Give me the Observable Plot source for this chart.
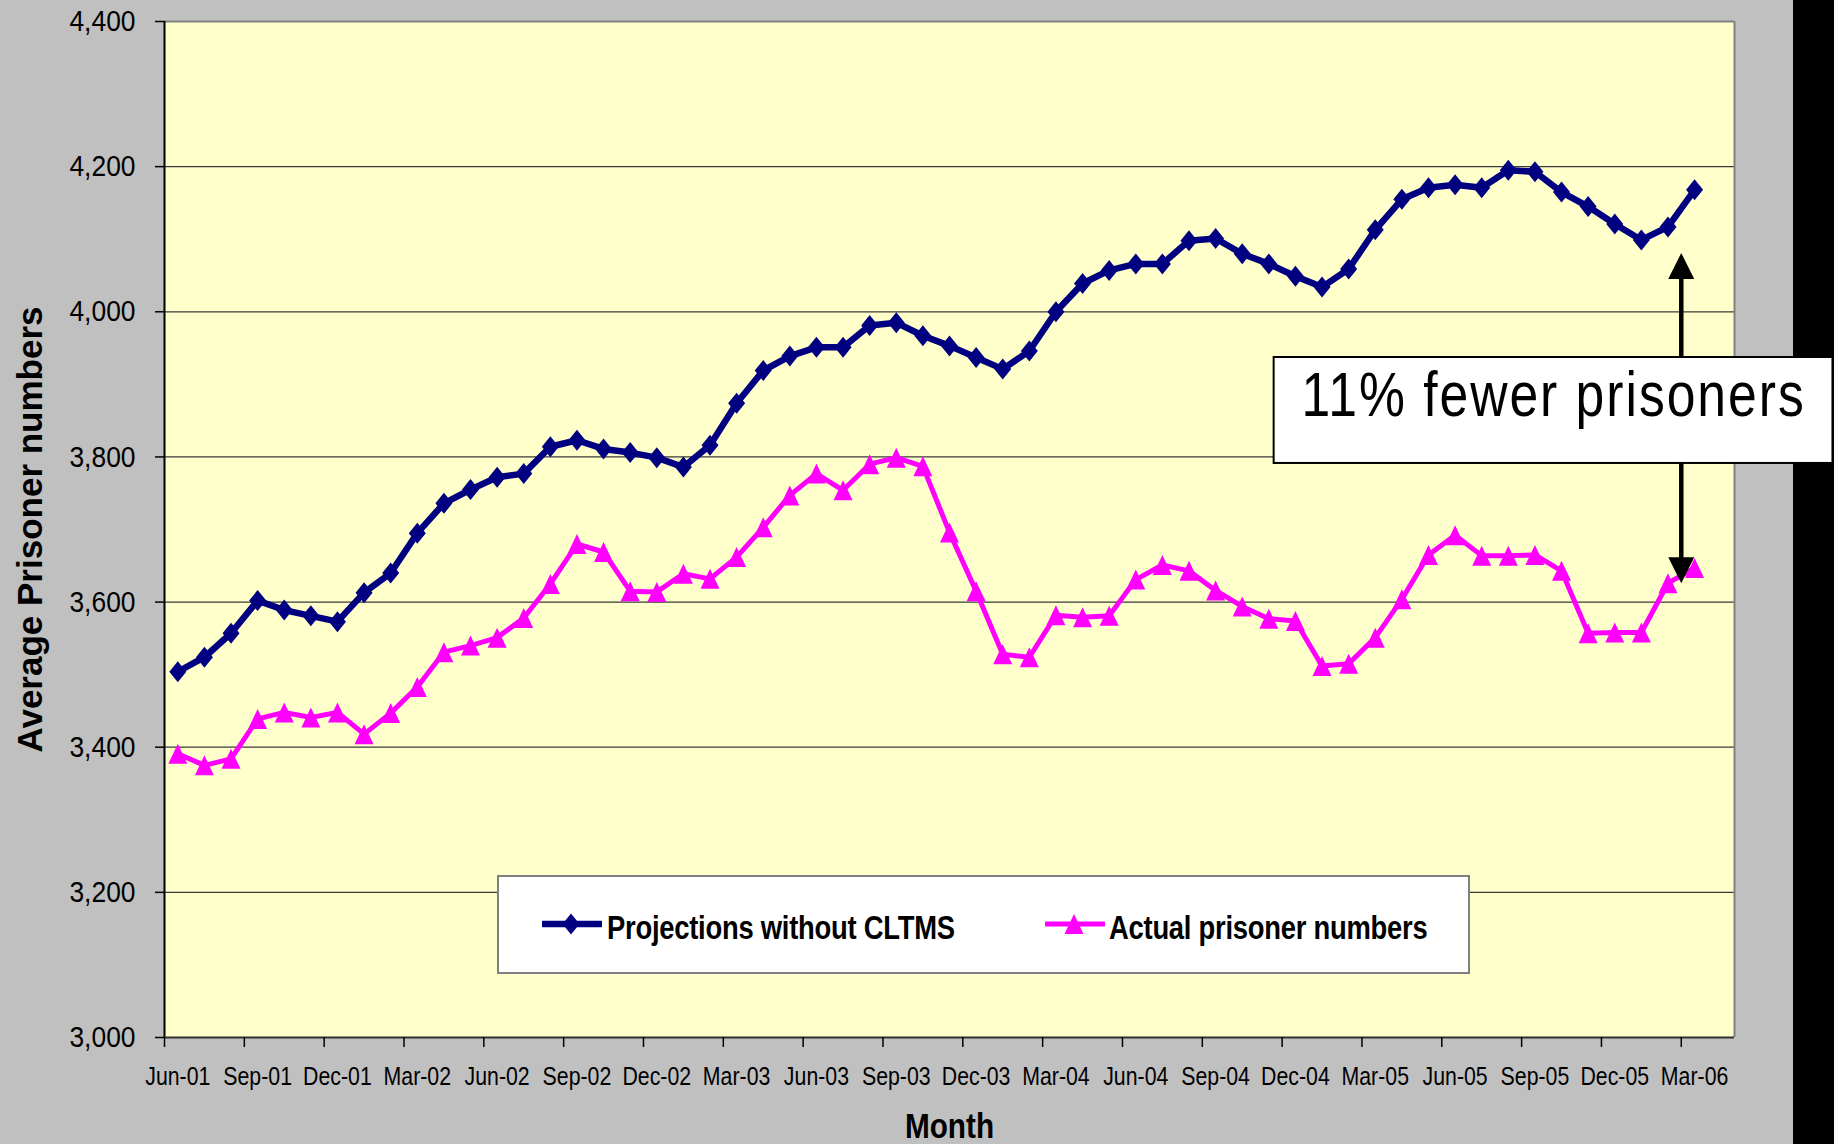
<!DOCTYPE html>
<html><head><meta charset="utf-8">
<script src="https://cdn.jsdelivr.net/npm/d3@7"></script>
<script src="https://cdn.jsdelivr.net/npm/@observablehq/plot@0.6"></script>
<style>
html,body{margin:0;padding:0;background:#C0C0C0;}
#wrap{position:relative;width:1834px;height:1144px;overflow:hidden;background:#C0C0C0;}
#strip{position:absolute;left:1793px;top:0;width:41px;height:1144px;background:#000;}
#chart{position:absolute;left:0;top:0;}
#legend{position:absolute;left:497px;top:875px;width:969px;height:95px;background:#fff;border:2px solid #808080;
  font-family:"Liberation Sans",Arial,sans-serif;font-weight:bold;font-size:33px;color:#000;}
#legend .item{position:absolute;top:0;left:0;height:95px;}
#legend svg{position:absolute;top:0;}
#legend span{position:absolute;top:34px;line-height:33px;white-space:nowrap;letter-spacing:-0.3px;
  transform:scaleX(0.83);transform-origin:left center;}
</style>
</head><body>
<div id="wrap"><div id="strip"></div><div id="chart"></div><div id="legend"></div></div>
<script>
// ---- data ----
const months = ["Jun-01","Jul-01","Aug-01","Sep-01","Oct-01","Nov-01","Dec-01","Jan-02","Feb-02","Mar-02","Apr-02","May-02",
  "Jun-02","Jul-02","Aug-02","Sep-02","Oct-02","Nov-02","Dec-02","Jan-03","Feb-03","Mar-03","Apr-03","May-03",
  "Jun-03","Jul-03","Aug-03","Sep-03","Oct-03","Nov-03","Dec-03","Jan-04","Feb-04","Mar-04","Apr-04","May-04",
  "Jun-04","Jul-04","Aug-04","Sep-04","Oct-04","Nov-04","Dec-04","Jan-05","Feb-05","Mar-05","Apr-05","May-05",
  "Jun-05","Jul-05","Aug-05","Sep-05","Oct-05","Nov-05","Dec-05","Jan-06","Feb-06","Mar-06","Apr-06"];
const projections = [3504,3524,3557,3602,3589,3581,3573,3613,3640,3695,3736,3755,
  3772,3777,3814,3823,3811,3806,3799,3786,3816,3874,3919,3939,
  3951,3951,3981,3985,3967,3953,3937,3921,3946,4000,4039,4057,
  4066,4066,4098,4101,4080,4066,4049,4034,4059,4113,4155,4171,
  4175,4171,4195,4193,4165,4145,4121,4099,4117,4168];
const actual = [3391,3375,3384,3439,3448,3441,3448,3418,3447,3483,3531,3540,
  3551,3578,3625,3680,3669,3615,3614,3639,3632,3662,3703,3747,
  3777,3754,3790,3799,3787,3696,3615,3528,3524,3582,3579,3581,
  3631,3651,3643,3616,3594,3577,3574,3512,3515,3551,3604,3665,
  3692,3664,3664,3665,3643,3557,3558,3558,3626,3647];
const seriesNames = ["Projections without CLTMS","Actual prisoner numbers"];
const seriesColors = ["#000080","#FF00FF"];
const tickLabels = ["Jun-01","Sep-01","Dec-01","Mar-02","Jun-02","Sep-02","Dec-02","Mar-03","Jun-03","Sep-03",
  "Dec-03","Mar-04","Jun-04","Sep-04","Dec-04","Mar-05","Jun-05","Sep-05","Dec-05","Mar-06"];
const yTicks = [3000,3200,3400,3600,3800,4000,4200,4400];
const yTitle = "Average Prisoner numbers";
const xTitle = "Month";
// annotation: arrow between the series (x in category units, y in prisoner numbers)
const arrow = [{x: 56.5, yTop: 4081, yBottom: 3626}];
const note = [{text: "11% fewer prisoners", x1: 41.2, x2: 62.2, y1: 3791, y2: 3937, yText: 3857}];

// ---- build table ----
const rows = projections.map((p, i) => ({i, month: months[i], projection: p, actual: actual[i]}));
const labelIdx = tickLabels.map(l => months.indexOf(l));
const boundIdx = d3.range(-0.5, months.length, 3);
const fmt = d3.format(",");

// ---- symbols ----
const sc = s => Math.sqrt(s / Math.PI) / 10;
const diamondSym = {draw(c, s){const k=sc(s); c.moveTo(0,-10.5*k); c.lineTo(8.5*k,0); c.lineTo(0,10.5*k); c.lineTo(-8.5*k,0); c.closePath();}};
const triSym = {draw(c, s){const k=sc(s); c.moveTo(0,-10*k); c.lineTo(9.5*k,10*k); c.lineTo(-9.5*k,10*k); c.closePath();}};
const headUp = {draw(c, s){const k=sc(s); c.moveTo(0,0); c.lineTo(13*k,26*k); c.lineTo(-13*k,26*k); c.closePath();}};
const headDown = {draw(c, s){const k=sc(s); c.moveTo(0,0); c.lineTo(13*k,-26*k); c.lineTo(-13*k,-26*k); c.closePath();}};

const chart = Plot.plot({
  width: 1834, height: 1144,
  marginLeft: 164, marginRight: 100, marginTop: 21, marginBottom: 107,
  style: {background: "transparent", fontFamily: "'Liberation Sans',Arial,sans-serif", color: "#000"},
  x: {type: "linear", domain: [-0.5, months.length - 0.5]},
  y: {domain: [3000, 4400]},
  marks: [
    Plot.frame({fill: "#FFFFCC", stroke: null}),
    Plot.gridY(yTicks.filter(v => v > 3000 && v < 4400), {stroke: "#3a3a3a", strokeOpacity: 1, strokeWidth: 1.2}),
    Plot.ruleY([4400], {stroke: "#808080", strokeWidth: 2}),
    Plot.ruleX([months.length - 0.5], {stroke: "#808080", strokeWidth: 2}),
    Plot.ruleX([-0.5], {stroke: "#000", strokeWidth: 2}),
    Plot.ruleY([3000], {stroke: "#303030", strokeWidth: 2}),
    Plot.axisY({ticks: yTicks, tickSize: 9, tickPadding: 20, tickFormat: fmt, fontSize: 30, strokeWidth: 1.5, label: null}),
    Plot.axisX({ticks: boundIdx, tickSize: 10, tickFormat: () => "", strokeWidth: 1.5, label: null}),
    Plot.axisX({ticks: labelIdx, tickSize: 0, tickPadding: 29, tickFormat: i => months[i], fontSize: 26, label: null}),
    Plot.line(rows, {x: "i", y: "projection", stroke: seriesColors[0], strokeWidth: 6.5}),
    Plot.dot(rows, {x: "i", y: "projection", symbol: diamondSym, r: 10, fill: seriesColors[0], stroke: null}),
    Plot.line(rows, {x: "i", y: "actual", stroke: seriesColors[1], strokeWidth: 5}),
    Plot.dot(rows, {x: "i", y: "actual", symbol: triSym, r: 10, fill: seriesColors[1], stroke: null}),
    Plot.ruleX(arrow, {x: "x", y1: "yTop", y2: "yBottom", stroke: "#000", strokeWidth: 4.5, insetTop: 12, insetBottom: 12}),
    Plot.dot(arrow, {x: "x", y: "yTop", symbol: headUp, r: 10, fill: "#000", stroke: null}),
    Plot.dot(arrow, {x: "x", y: "yBottom", symbol: headDown, r: 10, fill: "#000", stroke: null}),
    Plot.rect(note, {x1: "x1", x2: "x2", y1: "y1", y2: "y2", fill: "#fff", stroke: "#000", strokeWidth: 2}),
    Plot.text(note, {x: d => (d.x1 + d.x2) / 2, y: "yText", text: "text", fontSize: 63, lineAnchor: "bottom", textAnchor: "middle", fill: "#000"}),
    Plot.text([yTitle], {text: d => d, frameAnchor: "left", textAnchor: "middle", rotate: -90, dx: -123, lineAnchor: "bottom", fontWeight: "bold", fontSize: 35, fill: "#000"}),
    Plot.text([xTitle], {text: d => d, frameAnchor: "bottom", textAnchor: "middle", dy: 100, lineAnchor: "bottom", fontWeight: "bold", fontSize: 35, fill: "#000"})
  ]
});
document.getElementById("chart").appendChild(chart);

// condense horizontal texts (the original uses a narrow face); only the horizontal axis is scaled
function squeeze(node, s) {
  const xa = node.getAttribute("x");
  let x = 0;
  if (xa !== null && /^-?[\d.]+$/.test(xa)) { x = +xa; node.removeAttribute("x"); }
  const t = node.getAttribute("transform") || "";
  node.setAttribute("transform", `${t} translate(${x},0) scale(${s},1)`);
}
const yLabelSet = new Set(yTicks.map(fmt));
d3.select(chart).selectAll("text").each(function() {
  const s = this.textContent;
  if (s === note[0].text) { this.style.letterSpacing = "2.4px"; squeeze(this, 0.82); }
  else if (tickLabels.includes(s)) squeeze(this, 0.82);
  else if (yLabelSet.has(s)) squeeze(this, 0.88);
  else if (s === xTitle) squeeze(this, 0.85);
});

// ---- legend ----
const legend = d3.select("#legend");
const legendPos = [{sw: 43, tx: 107.5}, {sw: 546, tx: 610}];
seriesNames.forEach((name, j) => {
  const item = legend.append("div").attr("class", "item");
  const svg = item.append("svg").attr("width", 64).attr("height", 95).style("left", legendPos[j].sw + "px");
  svg.append("line").attr("x1", 0).attr("x2", 60).attr("y1", 47).attr("y2", 47)
    .attr("stroke", seriesColors[j]).attr("stroke-width", j === 0 ? 6.5 : 5);
  svg.append("path").attr("transform", "translate(29,47)")
    .attr("d", d3.symbol(j === 0 ? diamondSym : triSym, 100 * Math.PI)()).attr("fill", seriesColors[j]);
  item.append("span").style("left", legendPos[j].tx + "px").text(name);
});
</script>
</body></html>
